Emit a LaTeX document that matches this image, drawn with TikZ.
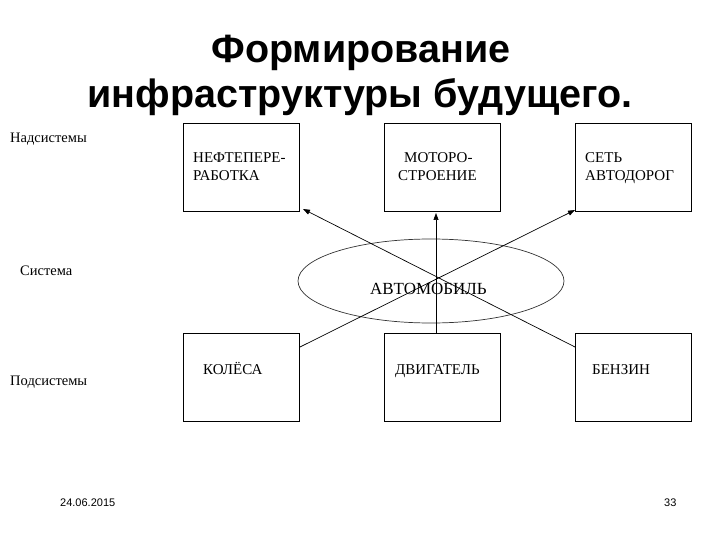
\documentclass[tikz,border=0pt]{standalone}
\usepackage{fontspec}
\setmainfont{Liberation Serif}
\newfontfamily\titlefont{Liberation Sans}
\usetikzlibrary{arrows.meta}
\begin{document}
\begin{tikzpicture}[x=1pt,y=-1pt,
  boxnode/.style={draw,line width=0.9pt,minimum width=116pt,minimum height=88pt,anchor=north west,inner sep=0pt},
  boxtext/.style={font=\fontsize{15}{18}\selectfont,anchor=base west,inner sep=0pt},
  sidetext/.style={font=\fontsize{14.5}{17}\selectfont,anchor=base west,inner sep=0pt},
  link/.style={line width=0.7pt},
  arr/.style={link,-{Triangle[length=7pt,width=5pt]}}]
\useasboundingbox (0,0) rectangle (720,540);
% title
\node[font=\titlefont\bfseries\fontsize{39.5}{46}\selectfont,anchor=base] (t1) at (361,63) {Формирование};
\node[font=\titlefont\bfseries\fontsize{39.5}{46}\selectfont,anchor=base] (t2) at (360,108) {инфраструктуры будущего.};
% side labels
\node[sidetext] (nad) at (10,143) {Надсистемы};
\node[sidetext] (sys) at (20,275) {Система};
\node[sidetext] (pod) at (10,385) {Подсистемы};
% top boxes
\node[boxnode] (b1) at (183,123) {};
\node[boxnode] (b2) at (384,123) {};
\node[boxnode] (b3) at (575,123) {};
% bottom boxes
\node[boxnode] (c1) at (183,333) {};
\node[boxnode] (c2) at (384,333) {};
\node[boxnode] (c3) at (575,333) {};
% box texts
\node[boxtext] (b1a) at (193,163) {НЕФТЕПЕРЕ-};
\node[boxtext] (b1b) at (193,181) {РАБОТКА};
\node[boxtext] (b2a) at (404,163) {МОТОРО-};
\node[boxtext] (b2b) at (398,181) {СТРОЕНИЕ};
\node[boxtext] (b3a) at (585,163) {СЕТЬ};
\node[boxtext] (b3b) at (585,181) {АВТОДОРОГ};
\node[boxtext] (c1a) at (203,374) {КОЛЁСА};
\node[boxtext] (c2a) at (395,374) {ДВИГАТЕЛЬ};
\node[boxtext] (c3a) at (592,374) {БЕНЗИН};
% ellipse
\draw[line width=0.7pt,black!80] (431,281) ellipse [x radius=133, y radius=42];
\node[boxtext,font=\fontsize{17}{20}\selectfont] (auto) at (370,294) {АВТОМОБИЛЬ};
% connectors
\coordinate (s1) at (300,347);
\coordinate (s2) at (436,333);
\coordinate (s3) at (575,347);
\coordinate (e1) at (303,209);
\coordinate (e2) at (436,213);
\coordinate (e3) at (575,210);
\draw[arr] (s1) -- (e3);
\draw[arr] (s3) -- (e1);
\draw[arr] (s2) -- (e2);
% footer
\node[font=\titlefont\fontsize{11}{13}\selectfont,anchor=base west,inner sep=0pt] (date) at (60,506) {24.06.2015};
\node[font=\titlefont\fontsize{11}{13}\selectfont,anchor=base west,inner sep=0pt] (num) at (664,506) {33};
\end{tikzpicture}
\end{document}
